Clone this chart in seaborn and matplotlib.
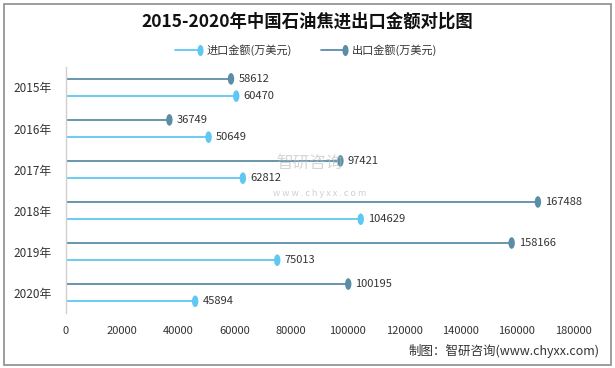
import matplotlib
matplotlib.use("Agg")
import matplotlib.pyplot as plt
import numpy as np
import pandas as pd
import seaborn as sns
from matplotlib.lines import Line2D
from matplotlib.patches import Rectangle
from matplotlib.path import Path

years = ["2015年", "2016年", "2017年", "2018年", "2019年", "2020年"]
export_vals = [58612, 36749, 97421, 167488, 158166, 100195]
import_vals = [60470, 50649, 62812, 104629, 75013, 45894]
x_ticks = [0, 20000, 40000, 60000, 80000, 100000, 120000, 140000, 160000, 180000]

IMPORT_COLOR = "#5fc8f2"
EXPORT_COLOR = "#5b8ea6"
OFFSET = 0.21

sns.set_theme(style="white")
plt.rcParams["font.family"] = ["Noto Sans CJK SC", "DejaVu Sans"]

# vertical ellipse marker
circle = Path.unit_circle()
ELLIPSE = Path(circle.vertices * np.array([0.55, 1.0]), circle.codes)

pos = np.arange(len(years))
df = pd.DataFrame({
    "value": export_vals + import_vals,
    "y": np.concatenate([pos - OFFSET, pos + OFFSET]),
    "series": ["出口"] * len(years) + ["进口"] * len(years),
})

fig = plt.figure(figsize=(6.15, 3.68), dpi=100)
ax = fig.add_axes([0.107, 0.149, 0.825, 0.669])

colors = {"出口": EXPORT_COLOR, "进口": IMPORT_COLOR}
for name, sub in df.groupby("series"):
    ax.hlines(sub["y"], 0, sub["value"], color=colors[name], lw=1.3, zorder=2)
sns.scatterplot(data=df, x="value", y="y", hue="series", palette=colors,
                marker=ELLIPSE, s=70, edgecolor="none", legend=False, ax=ax, zorder=3)

for _, row in df.iterrows():
    ax.text(row["value"] + 2600, row["y"], f"{row['value']}", va="center", ha="left",
            fontsize=8, color="#333333", zorder=4)

ax.set_xlim(0, 180000)
ax.set_ylim(len(years) - 0.5, -0.5)
ax.set_xticks(x_ticks)
ax.set_xticklabels([str(t) for t in x_ticks], fontsize=8, color="#333333")
ax.set_yticks(pos)
ax.set_yticklabels(years, fontsize=8.5, color="#333333")
ax.tick_params(axis="both", length=0)
ax.tick_params(axis="x", pad=9)
ax.tick_params(axis="y", pad=10)
ax.set_xlabel("")
ax.set_ylabel("")
for side in ["top", "right", "bottom"]:
    ax.spines[side].set_visible(False)
ax.spines["left"].set_color("#d0d0d0")
ax.spines["left"].set_linewidth(1)
ax.grid(False)

# watermark (kept clear of the value labels)
fig.text(310 / 615, 1 - 163 / 368, "智研咨询", fontsize=12, color="#bbbbbb", alpha=0.6,
         ha="center", va="center", zorder=1)
fig.text(320 / 615, 1 - 193 / 368, "w w w . c h y x x . c o m", fontsize=6.5, color="#bbbbbb",
         alpha=0.7, ha="center", va="center", zorder=1)

# title
fig.text(0.5, 0.94, "2015-2020年中国石油焦进出口金额对比图", fontsize=12.5,
         fontweight="bold", ha="center", va="center", color="#111111")

# legend drawn manually
def legend_item(x0, x1, color, label):
    y = 1 - 50 / 368
    fig.add_artist(Line2D([x0 / 615, x1 / 615], [y, y], color=color, lw=1.3,
                          transform=fig.transFigure))
    fig.add_artist(Line2D([x1 / 615], [y], color=color, marker=ELLIPSE, markersize=8,
                          markeredgewidth=0, transform=fig.transFigure))
    fig.text((x1 + 7) / 615, y, label, fontsize=8, va="center", ha="left", color="#333333")

legend_item(175, 200, IMPORT_COLOR, "进口金额(万美元)")
legend_item(321, 345, EXPORT_COLOR, "出口金额(万美元)")

# source
fig.text(600 / 615, 1 - 351 / 368, "制图：智研咨询(www.chyxx.com)", fontsize=9,
         ha="right", va="center", color="#333333")

# border
fig.add_artist(Rectangle((4 / 615, 3 / 368), 607 / 615, 361 / 368, fill=False,
                         edgecolor="#8c8c8c", lw=1.2, transform=fig.transFigure))

fig.savefig("out.png", dpi=100)
